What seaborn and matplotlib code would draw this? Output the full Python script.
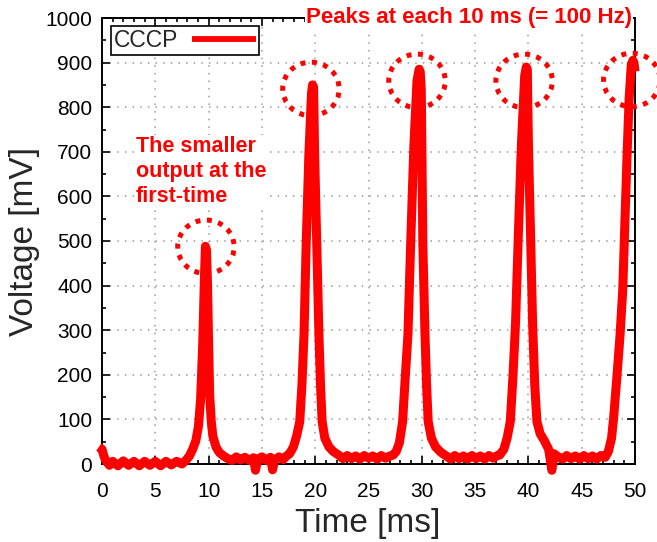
import matplotlib
matplotlib.use("Agg")
import matplotlib.pyplot as plt
from matplotlib.patches import Ellipse
from matplotlib.ticker import MultipleLocator
import numpy as np
import pandas as pd
import seaborn as sns

# Recorded trace: time [ms] and output voltage [mV]
time_ms = [
    -0.3, 0.0, 0.2, 0.4, 0.7, 1.0, 1.5, 2.0, 2.5, 3.0, 3.5, 4.0, 4.5, 5.0,
    5.5, 6.0, 6.5, 7.0, 7.5, 7.9,
    8.2, 8.5, 8.8, 9.05, 9.25, 9.45, 9.6, 9.7, 9.8, 9.9, 10.0, 10.1, 10.25,
    10.4, 10.7, 11.0, 11.4, 11.8,
    12.2, 12.6, 13.0, 13.4, 13.8, 14.2, 14.4, 14.6, 15.0, 15.4, 15.8, 16.0,
    16.2, 16.6, 17.0, 17.3,
    17.6, 17.95, 18.25, 18.55, 18.75, 18.95, 19.15, 19.4, 19.65, 19.75, 19.85,
    19.95, 20.15, 20.35, 20.5, 20.65, 20.9, 21.3, 21.7, 22.2,
    22.6, 23.0, 23.4, 23.8, 24.2, 24.6, 25.0, 25.4, 25.8, 26.2, 26.6, 27.0, 27.3,
    27.6, 27.9, 28.2, 28.45, 28.7, 28.95, 29.25, 29.55, 29.75, 29.85, 29.95,
    30.1, 30.3, 30.45, 30.6, 30.9, 31.3, 31.8, 32.3,
    32.7, 33.1, 33.5, 33.9, 34.3, 34.7, 35.1, 35.5, 35.9, 36.3, 36.7, 37.0,
    37.3, 37.7, 38.0, 38.3, 38.55, 38.8, 39.05, 39.35, 39.65, 39.8, 39.9,
    40.0, 40.2, 40.4, 40.6, 40.8, 41.1, 41.5, 41.9, 42.2, 42.4, 42.8,
    43.2, 43.6, 44.0, 44.4, 44.8, 45.2, 45.6, 46.0, 46.4, 46.8, 47.2,
    47.5, 47.8, 48.0, 48.3, 48.6, 48.85, 49.05, 49.25, 49.45, 49.65, 49.8, 49.9,
    50.0,
]
voltage_mv = [
    38, 33, 16, 6, -3, 6, -4, 7, -3, 6, -4, 6, -3, 6,
    -4, 6, -2, 6, 0, 9,
    18, 33, 52, 85, 145, 270, 410, 488, 480, 400, 270, 155, 95,
    62, 38, 26, 18, 12,
    8, 16, 9, 15, 8, 14, -14, 11, 16, 8, 15, -13,
    9, 16, 10, 18,
    23, 38, 62, 95, 175, 290, 490, 690, 830, 850, 845,
    690, 490, 290, 175, 95, 58, 38, 28, 20,
    12, 19, 12, 18, 11, 19, 13, 18, 11, 19, 13, 18, 20,
    28, 48, 95, 195, 290, 490, 710, 860, 885, 880, 840,
    490, 290, 175, 95, 58, 38, 26, 18,
    11, 19, 12, 18, 11, 19, 12, 18, 11, 19, 13, 18,
    20, 33, 58, 95, 195, 320, 510, 720, 870, 890, 885,
    720, 510, 310, 175, 95, 68, 52, 33, -14, 23, 16,
    11, 19, 12, 18, 11, 19, 12, 18, 11, 19, 15,
    28, 58, 105, 195, 290, 390, 540, 690, 820, 895, 905, 900,
    880,
]

# Dotted rings highlighting each output peak (time, voltage)
ring_time = [9.75, 19.6, 29.55, 39.6, 49.7]
ring_volt = [487, 841, 859, 859, 861]

RED = "#ff0000"

sns.set_theme(style="ticks")
plt.rcParams["font.family"] = ["Liberation Sans", "DejaVu Sans"]

df = pd.DataFrame({"Time [ms]": time_ms, "Voltage [mV]": voltage_mv})

fig = plt.figure(figsize=(6.57, 5.42), dpi=100)
ax = fig.add_axes([102 / 657, 1 - 464 / 542, 533 / 657, 446 / 542])

sns.lineplot(data=df, x="Time [ms]", y="Voltage [mV]", ax=ax, color=RED,
             linewidth=6.5, estimator=None, label="CCCP", clip_on=False,
             solid_joinstyle="round", solid_capstyle="butt", zorder=3)

ax.set_xlim(0, 50)
ax.set_ylim(0, 1000)
ax.xaxis.set_major_locator(MultipleLocator(5))
ax.xaxis.set_minor_locator(MultipleLocator(1))
ax.yaxis.set_major_locator(MultipleLocator(100))
ax.yaxis.set_minor_locator(MultipleLocator(50))

ax.grid(True, which="major", color="#9a9a9a", linewidth=1.1,
        linestyle=(0, (1, 4)))
ax.set_axisbelow(True)

for side in ax.spines.values():
    side.set_visible(True)
    side.set_linewidth(1.4)
    side.set_color("black")

ax.tick_params(which="both", direction="in", top=True, right=True,
               colors="black", width=1.2)
ax.tick_params(which="major", length=6)
ax.tick_params(which="minor", length=3)
ax.tick_params(axis="x", which="major", labelsize=15, pad=13)
ax.tick_params(axis="y", which="major", labelsize=15, pad=7)

ax.set_xlabel("Time [ms]", fontsize=24, va="center")
ax.set_ylabel("Voltage [mV]", fontsize=24, va="center")
ax.xaxis.set_label_coords(0.498, -0.133)
ax.yaxis.set_label_coords(-0.1445, 0.5)

# Dotted rings around the peaks
for tx, vy in zip(ring_time, ring_volt):
    ring = Ellipse((tx, vy), width=5.3, height=120, fill=False,
                   edgecolor=RED, linewidth=3.6, linestyle=(0, (1, 1.3)),
                   clip_on=False, zorder=5)
    ax.add_patch(ring)

leg = ax.legend(loc="upper left", bbox_to_anchor=(0.017, 0.982),
                borderaxespad=0, markerfirst=False, fontsize=16.5,
                frameon=True, fancybox=False, edgecolor="black",
                framealpha=1, handlelength=2.8, handletextpad=0.6,
                borderpad=0.12)
leg.get_frame().set_linewidth(1.2)
for line in leg.get_lines():
    line.set_linewidth(4.2)

fig.text(306 / 657, 1 - 18 / 542, "Peaks at each 10 ms (= 100 Hz)",
         color=RED, fontsize=16, fontweight="bold", ha="left", va="center",
         bbox=dict(facecolor="white", edgecolor="none", pad=1), zorder=6)

fig.text(136 / 657, 1 - 136 / 542, "The smaller\noutput at the\nfirst-time",
         color=RED, fontsize=15.5, fontweight="bold", ha="left", va="top",
         linespacing=1.25,
         bbox=dict(facecolor="white", edgecolor="none", pad=1), zorder=6)

fig.savefig("out.png", dpi=100, facecolor="white")
